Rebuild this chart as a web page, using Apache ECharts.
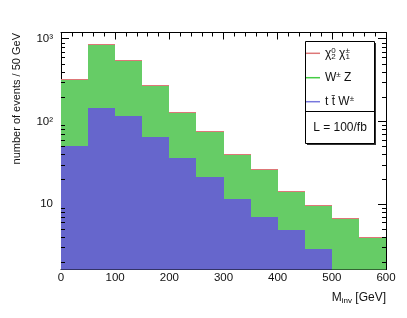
<!DOCTYPE html>
<html><head><meta charset="utf-8">
<script src="https://cdn.jsdelivr.net/npm/echarts@6/dist/echarts.min.js"></script>
<style>html,body{margin:0;padding:0;background:#fff}#c{width:407px;height:318px}</style>
</head><body><div id="c"></div>
<script>
// ---- data ----
const binEdges = [0,50,100,150,200,250,300,350,400,450,500,550,600];
const ttW  = [51,146,116,65.5,36.2,21,11.5,6.96,4.81,2.87,0,0];
const WZ   = [267,684,421,206,90,53.5,27.9,19,9.3,6.5,6.6,3.93];
const chi  = [8,20,13,6.5,3,1.8,1,0.6,0.35,0.25,0.17,0.1];
const xTicks = [0,100,200,300,400,500,600];
const yTickLabels = {1: '10', 2: '10²', 3: '10³'};
const yMin = 1.62, yMax = 1190;

const FONT = 'Liberation Sans, Arial, Helvetica, sans-serif';
const colBlue = '#6666cc', colGreen = '#66cc66', colRed = '#dd7777';

function layer(lower, vals) {
  return vals.map((v, i) => [binEdges[i], binEdges[i+1], lower ? lower[i] : 0, (lower ? lower[i] : 0) + v]);
}
const cum1 = ttW.slice();
const cum2 = ttW.map((v, i) => v + WZ[i]);
const dBlue = layer(null, ttW);
const dGreen = layer(cum1, WZ);
const dRed = layer(cum2, chi);

function histItem(color) {
  return function (params, api) {
    const x0 = api.value(0), x1 = api.value(1), lo = api.value(2), hi = api.value(3);
    if (!(hi > 0) || hi <= lo) return null;
    const loV = lo > 0 ? lo : yMin / 10;
    const p0 = api.coord([x0, hi]);
    const p1 = api.coord([x1, loV]);
    const cs = params.coordSys;
    const X0 = Math.round(p0[0]), X1 = Math.round(p1[0]);
    let Y0 = Math.round(p0[1]);
    const Y1 = Math.round(p1[1]);
    if (Y1 - Y0 < 1) Y0 = Y1 - 1;
    const r = echarts.graphic.clipRectByRect(
      {x: X0, y: Y0, width: X1 - X0, height: Y1 - Y0},
      {x: cs.x, y: cs.y, width: cs.width, height: cs.height});
    if (!r) return null;
    return {type: 'rect', shape: r, style: {fill: color}};
  };
}

// minor log ticks 2..9 x 10^k
const minorVals = [];
for (let k = 0; k <= 3; k++) for (let m = 2; m <= 9; m++) {
  const v = m * Math.pow(10, k);
  if (v > yMin && v < yMax) minorVals.push([0, v]);
}

const chart = echarts.init(document.getElementById('c'), null, {renderer: 'canvas'});
const legendRich = {
  n: {fontSize: 12, fontFamily: FONT, color: '#111', lineHeight: 14},
  p: {fontSize: 8, fontFamily: FONT, color: '#111', verticalAlign: 'top', lineHeight: 14, width: 0},
  q: {fontSize: 8, fontFamily: FONT, color: '#111', verticalAlign: 'top', lineHeight: 14},
  b: {fontSize: 8, fontFamily: FONT, color: '#111', verticalAlign: 'bottom', lineHeight: 14}
};
const legendText = {
  'chi': '{n|χ}{p|0}{b|2} {n|χ}{p|±}{b|1}',
  'WZ': '{n|W}{q|±}{n| Z}',
  'ttW': '{n|t t\u0304 W}{q|±}'
};
function mkLegend(name, color, cy) {
  return {
    data: [{name: name, icon: 'rect', itemStyle: {color: color}}],
    left: 306, top: cy - 7, padding: 0, itemWidth: 14, itemHeight: 1.5,
    selectedMode: false,
    formatter: n => legendText[n],
    textStyle: {rich: legendRich, fontFamily: FONT, fontSize: 12, color: '#111'}
  };
}

const option = {
  animation: false,
  backgroundColor: '#fff',
  grid: {left: 61, right: 21, top: 32.5, bottom: 48.5, containLabel: false},
  xAxis: [{
    type: 'value', min: 0, max: 600, interval: 100, position: 'bottom',
    axisLine: {show: true, onZero: false, lineStyle: {color: '#000', width: 1}},
    axisTick: {show: true, inside: true, length: 7, lineStyle: {color: '#000'}},
    minorTick: {show: true, splitNumber: 5, length: 4, lineStyle: {color: '#000'}},
    axisLabel: {show: true, margin: 2, fontSize: 11.5, fontFamily: FONT, color: '#111',
      formatter: v => xTicks.indexOf(v) >= 0 ? String(v) : ''},
    splitLine: {show: false}
  }, {
    type: 'value', min: 0, max: 600, interval: 100, position: 'top',
    axisLine: {show: true, onZero: false, lineStyle: {color: '#000', width: 1}},
    axisTick: {show: true, inside: true, length: 7, lineStyle: {color: '#000'}},
    minorTick: {show: true, splitNumber: 5, length: 4, lineStyle: {color: '#000'}},
    axisLabel: {show: false}, splitLine: {show: false}
  }],
  yAxis: [{
    type: 'log', logBase: 10, min: yMin, max: yMax, splitNumber: 3, position: 'left',
    axisLine: {show: true, onZero: false, lineStyle: {color: '#000', width: 1}},
    axisTick: {show: true, inside: true, length: 8, lineStyle: {color: '#000'}},
    axisLabel: {show: true, margin: 8, fontSize: 11.5, fontFamily: FONT, color: '#111',
      showMinLabel: false, showMaxLabel: false,
      formatter: v => { const e = Math.round(Math.log10(v)); return Math.abs(Math.log10(v) - e) < 1e-6 && yTickLabels[e] ? yTickLabels[e] : ''; }},
    splitLine: {show: false}
  }, {
    type: 'log', logBase: 10, min: yMin, max: yMax, splitNumber: 3, position: 'right',
    axisLine: {show: true, onZero: false, lineStyle: {color: '#000', width: 1}},
    axisTick: {show: true, inside: true, length: 8, lineStyle: {color: '#000'}},
    axisLabel: {show: false}, splitLine: {show: false}
  }],
  legend: [
    mkLegend('chi', colRed, 53.3),
    mkLegend('WZ', '#44cc44', 77.7),
    mkLegend('ttW', '#7777dd', 101.7)
  ],
  graphic: [
    {type: 'rect', z: 3, shape: {x: 307, y: 43, width: 69, height: 102}, style: {fill: '#333'}},
    {type: 'rect', z: 3, shape: {x: 305.5, y: 41.5, width: 69, height: 102}, style: {fill: '#fff', stroke: '#000', lineWidth: 1}},
    {type: 'line', z: 3, shape: {x1: 305.5, y1: 111.5, x2: 374.5, y2: 111.5}, style: {stroke: '#000', lineWidth: 1}},
    {type: 'text', z: 5, x: 340, y: 127.5, style: {text: 'L = 100/fb', font: '12px ' + FONT, fill: '#111', textAlign: 'center', textVerticalAlign: 'middle'}},
    {type: 'text', z: 5, x: 17, y: 33, rotation: Math.PI / 2, style: {text: 'number of events / 50 GeV', font: '11px ' + FONT, fill: '#111', textAlign: 'right', textVerticalAlign: 'middle'}},
    {type: 'text', z: 5, x: 386, y: 298, style: {
      text: '{m|M}{s|inv}{m| [GeV]}', textAlign: 'right', textVerticalAlign: 'middle',
      rich: {m: {fontSize: 12, fontFamily: FONT, fill: '#111', color: '#111', lineHeight: 14},
             s: {fontSize: 8, fontFamily: FONT, color: '#111', verticalAlign: 'bottom', lineHeight: 14}}}}
  ],
  series: [
    {name: 'ttW', type: 'custom', xAxisIndex: 0, yAxisIndex: 0, renderItem: histItem(colBlue),
      encode: {x: [0, 1], y: 3}, data: dBlue, z: 2, silent: true},
    {name: 'WZ', type: 'custom', xAxisIndex: 0, yAxisIndex: 0, renderItem: histItem(colGreen),
      encode: {x: [0, 1], y: 3}, data: dGreen, z: 2, silent: true},
    {name: 'chi', type: 'custom', xAxisIndex: 0, yAxisIndex: 0, renderItem: histItem(colRed),
      encode: {x: [0, 1], y: 3}, data: dRed, z: 2, silent: true},
    {name: 'minorTicks', type: 'custom', xAxisIndex: 0, yAxisIndex: 0, silent: true, z: 6,
      encode: {x: 0, y: 1}, data: minorVals,
      renderItem: function (params, api) {
        const cs = params.coordSys;
        const y = Math.round(api.coord([0, api.value(1)])[1]) + 0.5;
        return {type: 'group', children: [
          {type: 'line', shape: {x1: cs.x, y1: y, x2: cs.x + 4, y2: y}, style: {stroke: '#000', lineWidth: 1}},
          {type: 'line', shape: {x1: cs.x + cs.width - 4, y1: y, x2: cs.x + cs.width, y2: y}, style: {stroke: '#000', lineWidth: 1}}
        ]};
      }}
  ]
};
chart.setOption(option);
</script>
</body></html>
